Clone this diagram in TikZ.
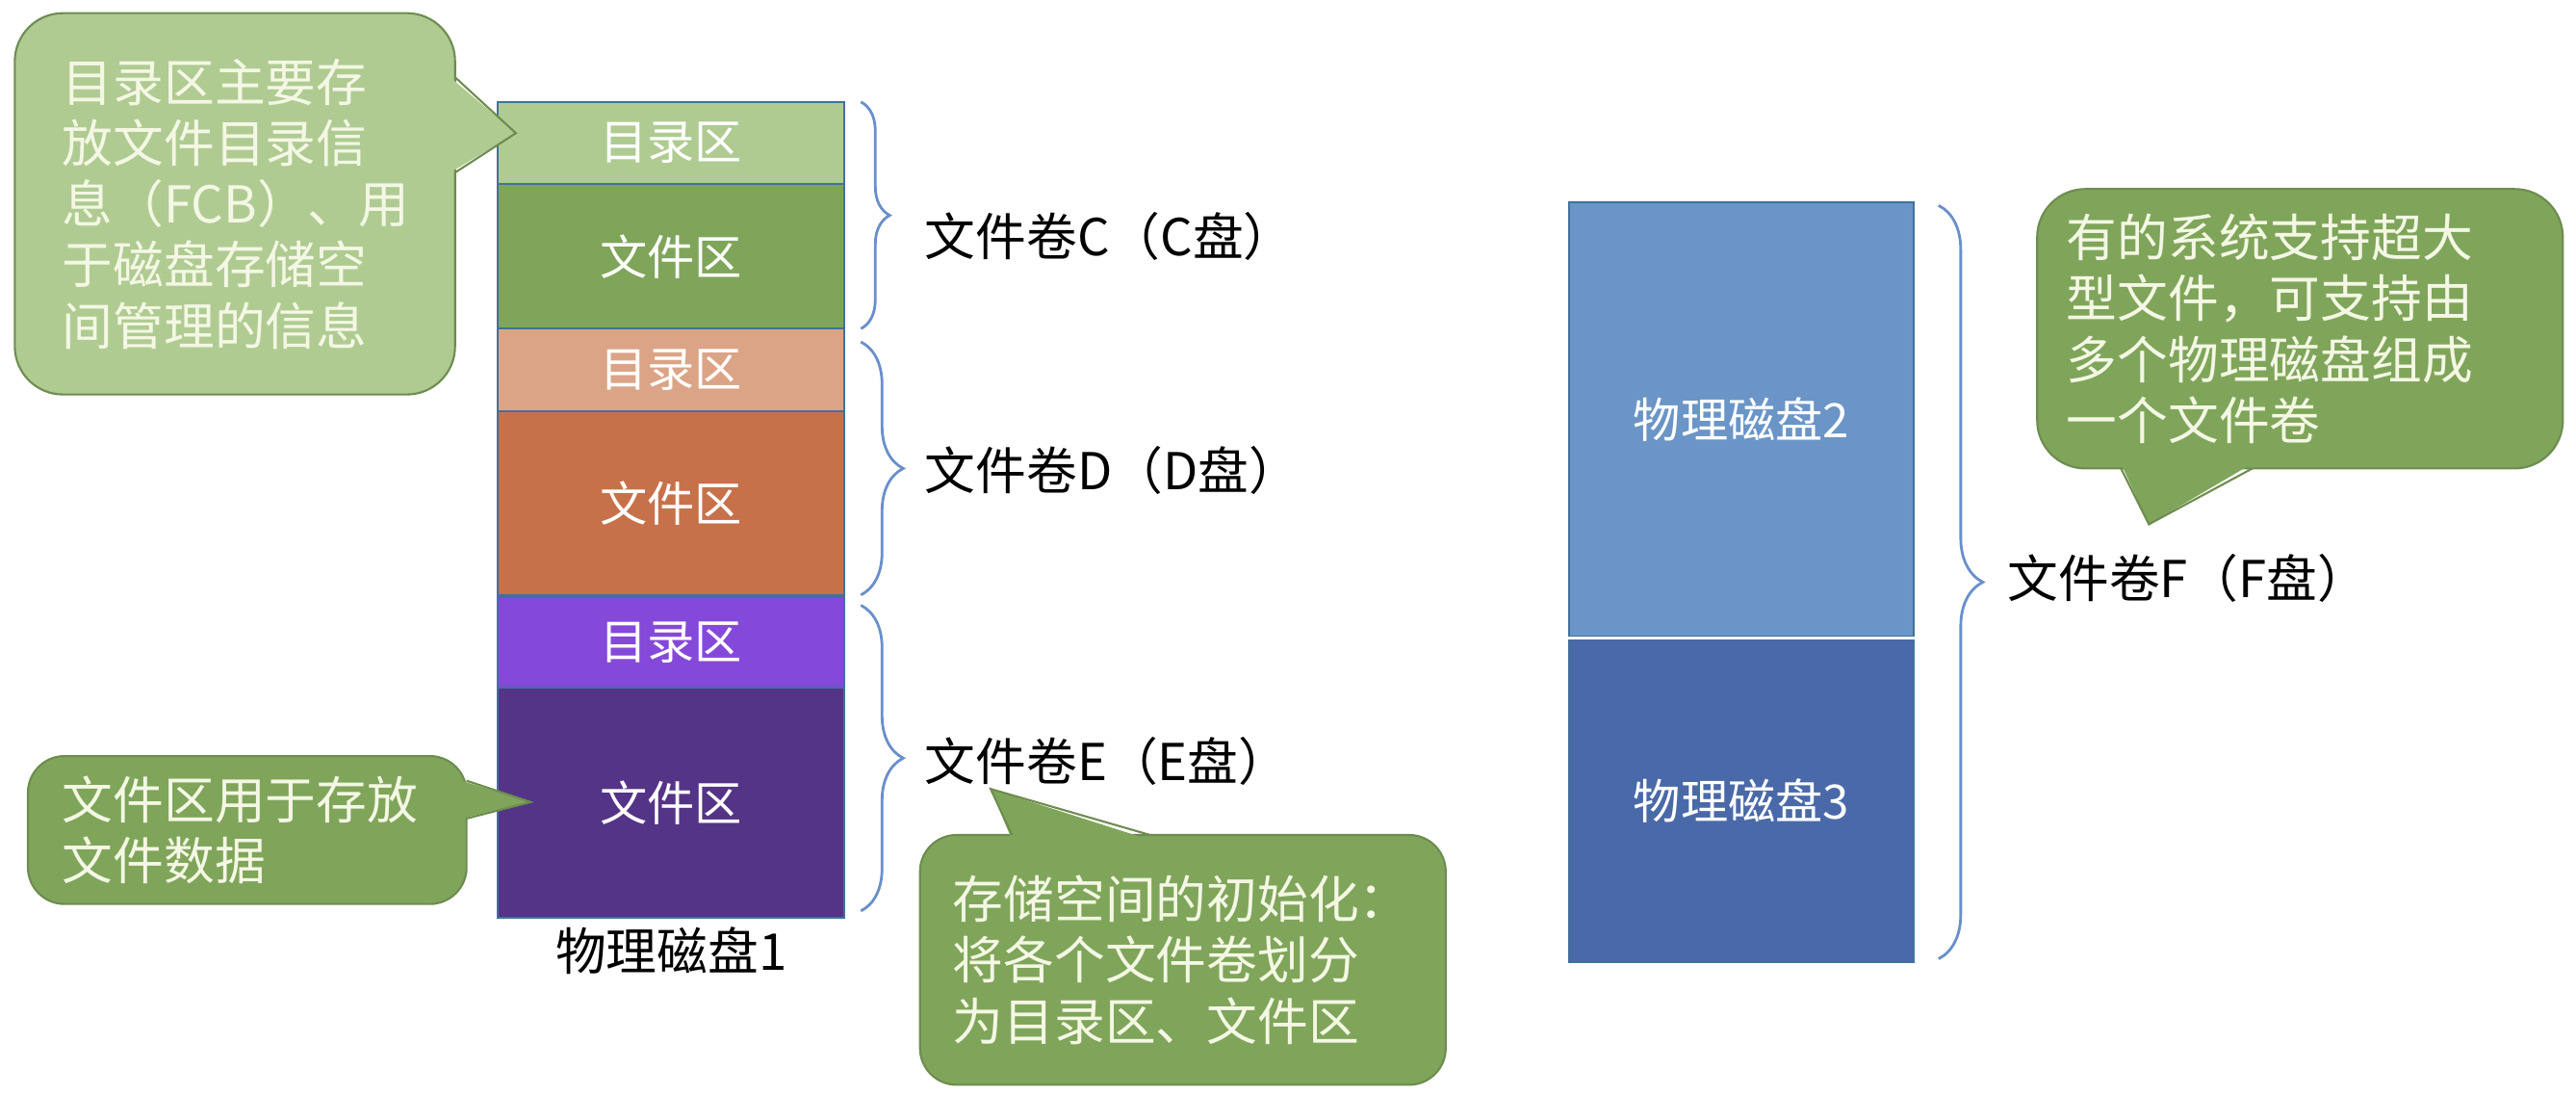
\documentclass[tikz,border=0pt]{standalone}
\usepackage{fontspec}
\setmainfont{Noto Sans CJK SC}
\usetikzlibrary{positioning,decorations.pathreplacing}

\definecolor{partedge}{HTML}{41719C}
\definecolor{dirgreen}{HTML}{AFCB92}
\definecolor{filegreen}{HTML}{7FA55A}
\definecolor{dirsalmon}{HTML}{DBA487}
\definecolor{fileorange}{HTML}{C7714A}
\definecolor{dirviolet}{HTML}{8549D9}
\definecolor{fileviolet}{HTML}{543487}
\definecolor{disklight}{HTML}{6A95C6}
\definecolor{diskdark}{HTML}{4A69A8}
\definecolor{bracelin}{HTML}{6A8FCB}
\definecolor{noteedge}{HTML}{6E8C50}
\definecolor{notetext}{HTML}{F4F7E4}

\def\pxu{0.017066cm}

\begin{document}
\begin{tikzpicture}[x=\pxu, y=-\pxu,
    every node/.style={font=\fontsize{15pt}{18pt}\selectfont, inner sep=0pt, outer sep=0pt},
    part/.style={draw=partedge, line width=0.5pt, minimum width=211*\pxu, text=white,
        font=\fontsize{14pt}{17pt}\selectfont},
    note/.style={draw=noteedge, line width=0.6pt, fill=filegreen, text=notetext,
        align=left, rounded corners=0.38cm},
    vollabel/.style={anchor=west, text=black},
    volbrace/.style={draw=bracelin, line width=0.8pt, decorate,
        decoration={brace, amplitude=#1}}]

    \useasboundingbox (0,0) rectangle (1568,666);

    % =====================================================
    % Physical disk 1: three volumes
    % =====================================================
    \node[part, fill=dirgreen, minimum height=50*\pxu] (dirC) at (408.5,87) {目录区};
    \node[part, fill=filegreen, minimum height=88*\pxu, below=0pt of dirC] (fileC) {文件区};
    \node[part, fill=dirsalmon, minimum height=50*\pxu, below=0pt of fileC] (dirD) {目录区};
    \node[part, fill=fileorange, minimum height=112*\pxu, below=0pt of dirD] (fileD) {文件区};
    \node[part, fill=dirviolet, minimum height=55*\pxu, below=0.6pt of fileD] (dirE) {目录区};
    \node[part, fill=fileviolet, minimum height=140*\pxu, below=0pt of dirE] (fileE) {文件区};

    \node[below=0.1cm of fileE] (disk1) {物理磁盘1};

    % volume braces
    \draw[volbrace=0.3cm] ([shift={(10,0)}]dirC.north east) -- ([shift={(10,0)}]fileC.south east);
    \draw[volbrace=0.44cm] ([shift={(10,8)}]dirD.north east) -- ([shift={(10,0)}]fileD.south east);
    \draw[volbrace=0.44cm] ([shift={(10,5)}]dirE.north east) -- ([shift={(10,-4)}]fileE.south east);

    \node[vollabel] (volC) at (563,144) {文件卷C（C盘）};
    \node[vollabel] (volD) at (563,286) {文件卷D（D盘）};
    \node[vollabel] (volE) at (563,463) {文件卷E（E盘）};

    % =====================================================
    % Physical disks 2 and 3: one volume
    % =====================================================
    \node[part, fill=disklight, minimum width=210*\pxu, minimum height=264*\pxu] (disk2) at (1060,255) {物理磁盘2};
    \node[part, fill=diskdark, minimum width=210*\pxu, minimum height=196*\pxu, below=0.04cm of disk2] (disk3) {物理磁盘3};

    \draw[volbrace=0.46cm] ([shift={(15,2)}]disk2.north east) -- ([shift={(15,-2)}]disk3.south east);
    \node[vollabel] (volF) at (1222,352) {文件卷F（F盘）};

    % =====================================================
    % Callouts
    % =====================================================
    \node[note, fill=dirgreen, text width=210*\pxu, inner xsep=29*\pxu, minimum height=232*\pxu,
        rounded corners=0.5cm] (noteDir) at (143,124)
        {目录区主要存\\放文件目录信\\息（FCB）、用\\于磁盘存储空\\间管理的信息};
    \coordinate (tipDir) at (314,81);
    \fill[dirgreen] (274,47) -- (tipDir) -- (274,105) -- cycle;
    \draw[noteedge, line width=0.6pt] (277,47) -- (tipDir) -- (277,105);

    \node[note, text width=225*\pxu, inner xsep=21*\pxu, minimum height=90*\pxu] (noteFile) at (150.5,505)
        {文件区用于存放\\文件数据};
    \coordinate (tipFile) at (323,488);
    \fill[filegreen] (281,475) -- (tipFile) -- (281,498) -- cycle;
    \draw[noteedge, line width=0.6pt] (284,475) -- (tipFile) -- (284,498);

    \node[note, text width=280*\pxu, inner xsep=20*\pxu, minimum height=152*\pxu] (noteInit) at (720,584)
        {存储空间的初始化：\\将各个文件卷划分\\为目录区、文件区};
    \coordinate (tipInit) at (603,480);
    \fill[filegreen] (616,511) -- (tipInit) -- (700,511) -- cycle;
    \draw[noteedge, line width=0.6pt] (616,508) -- (tipInit) -- (700,508);

    \node[note, text width=284*\pxu, inner xsep=18*\pxu, minimum height=170*\pxu,
        rounded corners=0.5cm] (noteBig) at (1400,200)
        {有的系统支持超大\\型文件，可支持由\\多个物理磁盘组成\\一个文件卷};
    \coordinate (tipBig) at (1308,319);
    \fill[filegreen] (1291,282) -- (tipBig) -- (1371,282) -- cycle;
    \draw[noteedge, line width=0.6pt] (1291,285) -- (tipBig) -- (1371,285);

\end{tikzpicture}
\end{document}
